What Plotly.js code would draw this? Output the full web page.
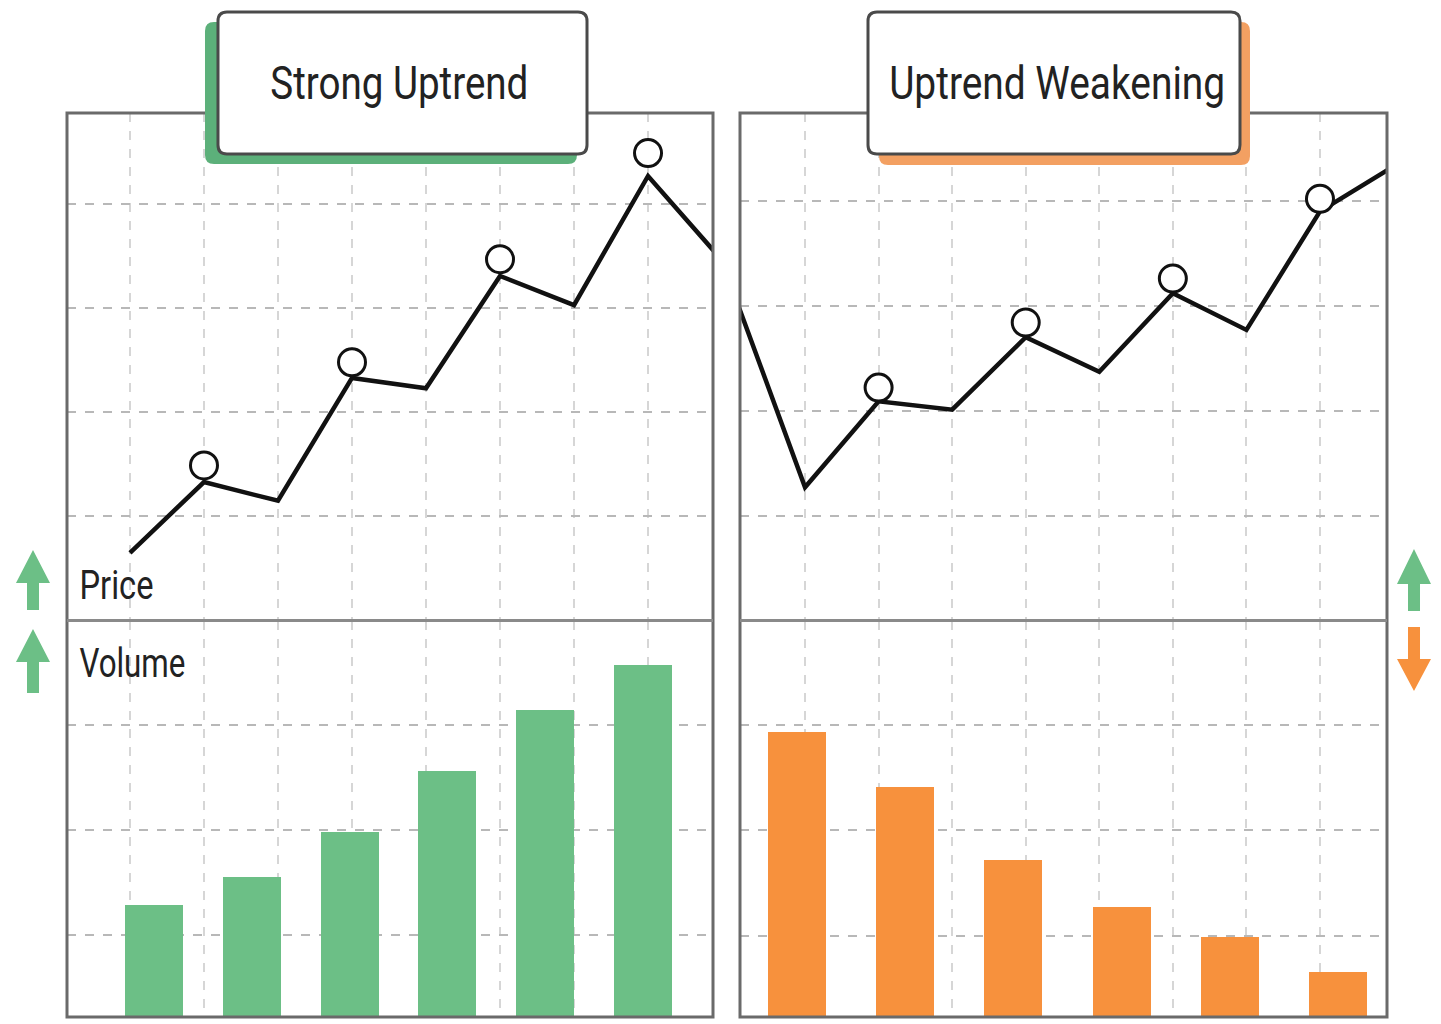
<!DOCTYPE html>
<html><head><meta charset="utf-8">
<script src="https://cdn.plot.ly/plotly-3.0.1.min.js"></script>
<style>html,body{margin:0;padding:0;background:#fff;overflow:hidden}</style>
</head><body><div id="chart" style="width:1441px;height:1024px"></div>
<script>
// ---- data ----
const panelTitles = ["Strong Uptrend", "Uptrend Weakening"];
const rowLabels = ["Price", "Volume"];
const strongPriceX = [0, 1, 2, 3, 4, 5, 6, 7, 8];
const strongPrice = [6.5, 13.3, 11.5, 23.3, 22.3, 33.1, 30.3, 42.7, 34.6];
const strongPeakX = [1, 3, 5, 7];
const strongPeaks = [14.9, 24.8, 34.7, 44.9];
const weakPriceX = [-1, 0, 1, 2, 3, 4, 5, 6, 7, 8];
const weakPrice = [31.8, 12.7, 20.9, 20.1, 27.0, 23.7, 31.2, 27.7, 39.0, 43.3];
const weakPeakX = [1, 3, 5, 7];
const weakPeaks = [22.2, 28.4, 32.6, 40.2];
const volumeX = [0, 1, 2, 3, 4, 5];
const strongVolume = [10.7, 13.3, 17.6, 23.5, 29.3, 33.6];
const weakVolume = [27.0, 21.8, 14.9, 10.4, 7.6, 4.3];

// ---- layout helpers (pixel -> paper) ----
const W = 1441, H = 1024;
const px = x => x / W;
const py = y => 1 - y / H;
const GREEN = '#6cbf86', ORANGE = '#f7913d';
const FONT = 'Roboto, "Liberation Sans", sans-serif';

function rrect(x0, y0, x1, y1, r) {
  const P = (x, y) => px(x).toFixed(5) + ',' + py(y).toFixed(5);
  return 'M' + P(x0 + r, y0) + ' L' + P(x1 - r, y0) + ' Q' + P(x1, y0) + ' ' + P(x1, y0 + r) +
    ' L' + P(x1, y1 - r) + ' Q' + P(x1, y1) + ' ' + P(x1 - r, y1) +
    ' L' + P(x0 + r, y1) + ' Q' + P(x0, y1) + ' ' + P(x0, y1 - r) +
    ' L' + P(x0, y0 + r) + ' Q' + P(x0, y0) + ' ' + P(x0 + r, y0) + ' Z';
}
function arrow(cx, tip, headEnd, tail, hw, sw) {
  const P = (x, y) => px(x).toFixed(5) + ',' + py(y).toFixed(5);
  return 'M' + P(cx, tip) + ' L' + P(cx + hw, headEnd) + ' L' + P(cx + sw, headEnd) +
    ' L' + P(cx + sw, tail) + ' L' + P(cx - sw, tail) + ' L' + P(cx - sw, headEnd) +
    ' L' + P(cx - hw, headEnd) + ' Z';
}

const lineStyle = {color: '#111', width: 4.5};
const markerStyle = {size: 27, color: '#fff', line: {color: '#111', width: 3}};

const traces = [
  {x: strongPriceX, y: strongPrice, xaxis: 'x', yaxis: 'y', mode: 'lines', line: lineStyle, hoverinfo: 'skip'},
  {x: strongPeakX, y: strongPeaks, xaxis: 'x', yaxis: 'y', mode: 'markers', marker: markerStyle, hoverinfo: 'skip'},
  {x: volumeX, y: strongVolume, xaxis: 'x2', yaxis: 'y2', type: 'bar', width: 0.593, marker: {color: GREEN}, hoverinfo: 'skip'},
  {x: weakPriceX, y: weakPrice, xaxis: 'x3', yaxis: 'y3', mode: 'lines', line: lineStyle, hoverinfo: 'skip'},
  {x: weakPeakX, y: weakPeaks, xaxis: 'x3', yaxis: 'y3', mode: 'markers', marker: markerStyle, hoverinfo: 'skip'},
  {x: volumeX, y: weakVolume, xaxis: 'x4', yaxis: 'y4', type: 'bar', width: 0.536, marker: {color: ORANGE}, hoverinfo: 'skip'}
];

const gx = {showticklabels: false, ticks: '', zeroline: false, showline: false, showgrid: true,
  gridcolor: '#d6d6d6', gridwidth: 2, griddash: 'dash', fixedrange: true};
const gy = {showticklabels: false, ticks: '', zeroline: false, showline: false, showgrid: true,
  gridcolor: '#b8b8b8', gridwidth: 2, griddash: 'dash', fixedrange: true};

const L0 = 67, L1 = 713, R0 = 740, R1 = 1387, TOP = 113, MID = 620.5, BOT = 1017;

const layout = {
  width: W, height: H, margin: {l: 0, r: 0, t: 0, b: 0},
  paper_bgcolor: '#fff', plot_bgcolor: 'rgba(0,0,0,0)', showlegend: false, bargap: 0,
  xaxis: Object.assign({}, gx, {domain: [px(L0), px(L1)], range: [-0.851, 7.878], tick0: 0, dtick: 1}),
  yaxis: Object.assign({}, gy, {domain: [py(MID), py(TOP)], range: [0, 48.75], tick0: 0, dtick: 10}),
  xaxis2: Object.assign({}, gx, {domain: [px(L0), px(L1)], range: [-0.890, 5.716], tick0: -0.245, dtick: 0.757}),
  yaxis2: Object.assign({}, gy, {domain: [py(BOT), py(MID)], range: [0, 37.8], tick0: 7.8, dtick: 10}),
  xaxis3: Object.assign({}, gx, {domain: [px(R0), px(R1)], range: [-0.884, 7.911], tick0: 0, dtick: 1}),
  yaxis3: Object.assign({}, gy, {domain: [py(MID), py(TOP)], range: [0, 48.38], tick0: 0, dtick: 10}),
  xaxis4: Object.assign({}, gx, {domain: [px(R0), px(R1)], range: [-0.527, 5.453], tick0: 0.074, dtick: 0.680}),
  yaxis4: Object.assign({}, gy, {domain: [py(BOT), py(MID)], range: [0, 37.6], tick0: 7.7, dtick: 10}),
  shapes: [
    {type: 'rect', xref: 'paper', yref: 'paper', x0: px(L0), x1: px(L1), y0: py(BOT), y1: py(TOP), line: {color: '#6a6a6a', width: 3}, layer: 'above'},
    {type: 'rect', xref: 'paper', yref: 'paper', x0: px(R0), x1: px(R1), y0: py(BOT), y1: py(TOP), line: {color: '#6a6a6a', width: 3}, layer: 'above'},
    {type: 'line', xref: 'paper', yref: 'paper', x0: px(L0), x1: px(L1), y0: py(MID), y1: py(MID), line: {color: '#8a8a8a', width: 3}, layer: 'above'},
    {type: 'line', xref: 'paper', yref: 'paper', x0: px(R0), x1: px(R1), y0: py(MID), y1: py(MID), line: {color: '#8a8a8a', width: 3}, layer: 'above'},
    {type: 'path', xref: 'paper', yref: 'paper', path: rrect(205, 22, 577, 164, 9), fillcolor: '#5cb07a', line: {width: 0}, layer: 'above'},
    {type: 'path', xref: 'paper', yref: 'paper', path: rrect(879, 22, 1250, 165, 9), fillcolor: '#f3a062', line: {width: 0}, layer: 'above'},
    {type: 'path', xref: 'paper', yref: 'paper', path: rrect(218, 12, 587, 154, 9), fillcolor: '#fff', line: {color: '#4a4a4a', width: 3}, layer: 'above'},
    {type: 'path', xref: 'paper', yref: 'paper', path: rrect(868, 12, 1240, 154, 9), fillcolor: '#fff', line: {color: '#4a4a4a', width: 3}, layer: 'above'},
    {type: 'path', xref: 'paper', yref: 'paper', path: arrow(33, 550, 583, 610, 17, 6), fillcolor: GREEN, line: {width: 0}, layer: 'above'},
    {type: 'path', xref: 'paper', yref: 'paper', path: arrow(33, 629, 662, 693, 17, 6), fillcolor: GREEN, line: {width: 0}, layer: 'above'},
    {type: 'path', xref: 'paper', yref: 'paper', path: arrow(1414, 549, 584, 611, 17, 6), fillcolor: GREEN, line: {width: 0}, layer: 'above'},
    {type: 'path', xref: 'paper', yref: 'paper', path: arrow(1414, 691, 659, 627, 17, 6), fillcolor: ORANGE, line: {width: 0}, layer: 'above'}
  ],
  annotations: [
    {xref: 'paper', yref: 'paper', x: px(399), y: py(82), text: panelTitles[0], showarrow: false, xanchor: 'center', yanchor: 'middle', font: {family: FONT, size: 47, color: '#222'}},
    {xref: 'paper', yref: 'paper', x: px(1057), y: py(82), text: panelTitles[1], showarrow: false, xanchor: 'center', yanchor: 'middle', font: {family: FONT, size: 47, color: '#222'}},
    {xref: 'paper', yref: 'paper', x: px(116), y: py(585), text: rowLabels[0], showarrow: false, xanchor: 'center', yanchor: 'middle', font: {family: FONT, size: 41, color: '#222'}},
    {xref: 'paper', yref: 'paper', x: px(132), y: py(663), text: rowLabels[1], showarrow: false, xanchor: 'center', yanchor: 'middle', font: {family: FONT, size: 41, color: '#222'}}
  ]
};

// condensed lettering widths seen in the picture
const textWidths = {"Strong Uptrend": 258, "Uptrend Weakening": 336, "Price": 74, "Volume": 106};

Plotly.newPlot('chart', traces, layout, {staticPlot: true, displayModeBar: false}).then(() => {
  document.querySelectorAll('#chart .annotation-text').forEach(t => {
    const w = textWidths[t.textContent.trim()];
    if (w) {
      t.setAttribute('textLength', w);
      t.setAttribute('lengthAdjust', 'spacingAndGlyphs');
    }
  });
});
</script></body></html>
